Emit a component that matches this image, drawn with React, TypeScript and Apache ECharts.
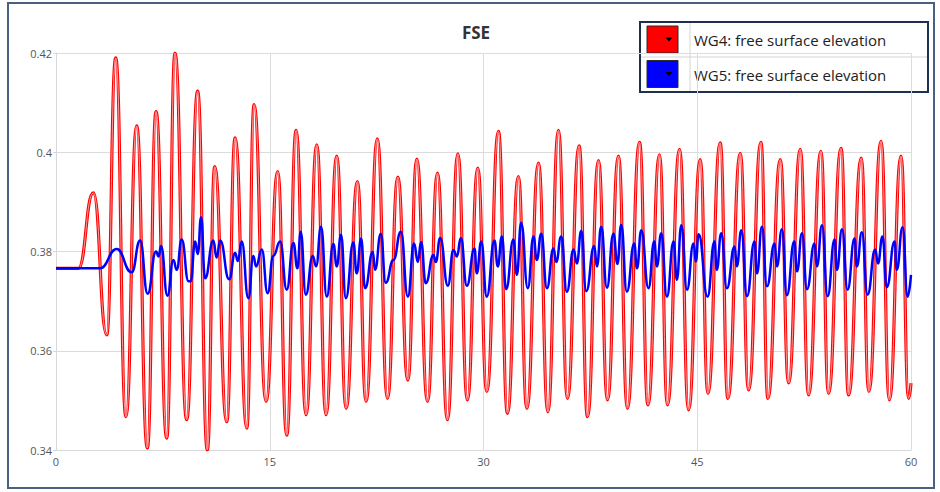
import React, { useEffect, useRef } from "react";
import * as echarts from "echarts";

const titleText = "FSE";
const seriesNames = ["WG4: free surface elevation", "WG5: free surface elevation"];
const seriesColors = ["#ff0000", "#0000ff"];
const xTicks = { min: 0, max: 60, interval: 15 };
const yTicks = { min: 0.34, max: 0.42, interval: 0.02 };

// WG4 (red): time of each crest / trough
const tWG4 = [
  0, 1.57, 2.62, 3.56, 4.19, 4.91, 5.66, 6.41, 7.02, 7.77, 8.35, 9.17, 9.94, 10.62, 11.14, 11.98,
  12.57, 13.39, 13.9, 14.74, 15.56, 16.19, 16.85, 17.55, 18.3, 18.95, 19.7, 20.36, 21.15, 21.76,
  22.55, 23.26, 23.99, 24.69, 25.32, 26.07, 26.77, 27.47, 28.2, 28.87, 29.6, 30.23, 31.05, 31.68,
  32.45, 33.04, 33.86, 34.52, 35.26, 35.89, 36.71, 37.3, 38.07, 38.7, 39.47, 40.1, 40.95, 41.54,
  42.35, 42.91, 43.76, 44.39, 45.21, 45.75, 46.61, 47.15, 48.02, 48.6, 49.47, 49.96, 50.83, 51.41,
  52.23, 52.81, 53.68, 54.21, 55.09, 55.62, 56.51, 57.04, 57.9, 58.48, 59.3, 59.83, 60,
];
const vWG4 = [
  0.3766, 0.3766, 0.3918, 0.3632, 0.419, 0.3467, 0.4053, 0.3404, 0.4082, 0.3424, 0.42, 0.3461,
  0.4123, 0.34, 0.3971, 0.3457, 0.4029, 0.3444, 0.4096, 0.3498, 0.3961, 0.343, 0.4044, 0.3471,
  0.4015, 0.3471, 0.3992, 0.3484, 0.3941, 0.3498, 0.4027, 0.3504, 0.395, 0.3541, 0.3986, 0.3498,
  0.3958, 0.3461, 0.3997, 0.3501, 0.3968, 0.3518, 0.4042, 0.3474, 0.3951, 0.3484, 0.3978, 0.3477,
  0.4044, 0.3504, 0.4013, 0.3467, 0.3983, 0.3501, 0.3992, 0.3484, 0.402, 0.3491, 0.3995, 0.3491,
  0.4006, 0.3481, 0.3985, 0.3514, 0.4019, 0.3504, 0.3998, 0.3521, 0.402, 0.3504, 0.3985, 0.3535,
  0.4006, 0.3511, 0.4002, 0.3514, 0.4008, 0.3511, 0.3988, 0.3518, 0.4022, 0.3501, 0.3992, 0.3504,
  0.3535,
];

// WG5 (blue): crests, small dips and troughs
const tWG5 = [
  0, 3.09, 4.26, 5.31, 5.9, 6.43, 7.02, 7.2, 7.37, 7.82, 8.24, 8.47, 8.82, 9.3, 9.45, 9.76, 9.95,
  10.18, 10.46, 11.04, 11.27, 11.52, 12.15, 12.57, 12.76, 13.03, 13.5, 13.85, 14.04, 14.44, 14.85,
  15.25, 15.73, 16.19, 16.66, 16.94, 17.17, 17.53, 18.02, 18.25, 18.6, 19.0, 19.47, 19.7, 20.0,
  20.34, 20.87, 21.1, 21.41, 21.69, 22.23, 22.39, 22.79, 23.14, 23.68, 24.2, 24.69, 25.13, 25.39,
  25.62, 25.95, 26.49, 26.65, 26.96, 27.5, 27.89, 28.13, 28.41, 28.83, 29.37, 29.53, 29.84, 30.23,
  30.77, 31.0, 31.29, 31.59, 32.1, 32.34, 32.64, 33.11, 33.51, 33.74, 34.05, 34.45, 34.91, 35.1,
  35.45, 35.85, 36.32, 36.55, 36.86, 37.21, 37.77, 37.96, 38.26, 38.66, 39.12, 39.4, 39.66, 40.06,
  40.58, 40.77, 41.07, 41.58, 41.98, 42.17, 42.47, 42.87, 43.34, 43.57, 43.88, 44.28, 44.74, 44.9,
  45.1, 45.72, 46.21, 46.37, 46.68, 47.08, 47.62, 47.78, 48.09, 48.49, 49.02, 49.19, 49.54, 49.89,
  50.43, 50.59, 50.94, 51.29, 51.81, 52.0, 52.35, 52.7, 53.23, 53.4, 53.75, 54.15, 54.64, 54.8,
  55.16, 55.55, 56.04, 56.2, 56.55, 56.95, 57.49, 57.68, 58.0, 58.3, 58.85, 59.0, 59.41, 59.76, 60,
];
const vWG5 = [
  0.3766, 0.3766, 0.3805, 0.3758, 0.3822, 0.3715, 0.38, 0.379, 0.3811, 0.3711, 0.3783, 0.3763,
  0.3824, 0.374, 0.374, 0.382, 0.3795, 0.3869, 0.3746, 0.3822, 0.3788, 0.3822, 0.3744, 0.3797,
  0.3781, 0.382, 0.3706, 0.3791, 0.377, 0.3804, 0.3716, 0.3791, 0.382, 0.3723, 0.3817, 0.3766,
  0.384, 0.3713, 0.3791, 0.377, 0.385, 0.3709, 0.3815, 0.377, 0.3834, 0.3706, 0.3818, 0.3756,
  0.3826, 0.3726, 0.3799, 0.3763, 0.3836, 0.3737, 0.3783, 0.384, 0.3709, 0.3816, 0.3779, 0.3819,
  0.3736, 0.3793, 0.3779, 0.3827, 0.3731, 0.3803, 0.379, 0.3827, 0.3731, 0.3806, 0.3756, 0.382,
  0.3709, 0.3822, 0.377, 0.383, 0.3724, 0.3824, 0.3753, 0.3858, 0.3726, 0.383, 0.3783, 0.3836,
  0.3726, 0.3806, 0.3779, 0.383, 0.3719, 0.3804, 0.3776, 0.3842, 0.372, 0.3811, 0.377, 0.385,
  0.3727, 0.3836, 0.3775, 0.3854, 0.3719, 0.3816, 0.3766, 0.3843, 0.3726, 0.382, 0.377, 0.3837,
  0.3709, 0.382, 0.3743, 0.3853, 0.3723, 0.3816, 0.378, 0.3835, 0.3709, 0.382, 0.3763, 0.3837,
  0.3726, 0.381, 0.377, 0.3843, 0.371, 0.382, 0.3756, 0.385, 0.373, 0.3816, 0.377, 0.3845, 0.3712,
  0.382, 0.376, 0.3837, 0.3724, 0.3816, 0.377, 0.3853, 0.371, 0.3824, 0.3763, 0.3845, 0.3723,
  0.3826, 0.377, 0.3839, 0.3713, 0.3804, 0.3776, 0.383, 0.3728, 0.382, 0.3763, 0.3849, 0.3709,
  0.3753,
];

const FONT = "'Open Sans', 'Noto Sans', sans-serif";

export default function App() {
  const ref = useRef<HTMLDivElement>(null);

  useEffect(() => {
    if (!ref.current) return;
    const chart = echarts.init(ref.current, null, { renderer: "svg" });
    const redData = tWG4.map((t, i) => [t, vWG4[i]]);
    const blueData = tWG5.map((t, i) => [t, vWG5[i]]);

    const legendX = 640;
    const legendY = 22;
    const legendW = 288;
    const rowH = 34.5;

    const legendRows: any[] = [];
    seriesNames.forEach((name, i) => {
      const y0 = legendY + i * rowH;
      legendRows.push(
        {
          type: "rect",
          shape: { x: legendX + 7, y: y0 + 4, width: 31, height: 27 },
          style: { fill: seriesColors[i], stroke: "#2a2a2a", lineWidth: 1 },
        },
        {
          type: "polygon",
          shape: {
            points: [
              [legendX + 25.5, y0 + 15.5],
              [legendX + 32.5, y0 + 15.5],
              [legendX + 29, y0 + 19.5],
            ],
          },
          style: { fill: "#000" },
        },
        {
          type: "text",
          x: legendX + 54,
          y: y0 + 18,
          style: {
            text: name,
            fill: "#222",
            font: `15px ${FONT}`,
            verticalAlign: "middle",
            align: "left",
          },
        }
      );
    });

    chart.setOption({
      animation: false,
      backgroundColor: "#ffffff",
      title: {
        text: titleText,
        left: 471,
        textAlign: "center",
        top: 19,
        textStyle: { fontFamily: FONT, fontWeight: "bold", fontSize: 17, color: "#333" },
      },
      grid: { left: 56, right: 29, top: 53, bottom: 42, containLabel: false },
      xAxis: {
        type: "value",
        min: xTicks.min,
        max: xTicks.max,
        interval: xTicks.interval,
        axisLine: { show: true, lineStyle: { color: "#d8d8d8", width: 1 } },
        axisTick: { show: false },
        splitLine: { show: true, lineStyle: { color: "#dcdcdc", width: 1 } },
        axisLabel: { color: "#555", fontFamily: FONT, fontSize: 11, margin: 6 },
      },
      yAxis: {
        type: "value",
        min: yTicks.min,
        max: yTicks.max,
        interval: yTicks.interval,
        axisLine: { show: true, lineStyle: { color: "#d8d8d8", width: 1 } },
        axisTick: { show: true, length: 3, lineStyle: { color: "#d8d8d8" } },
        splitLine: { show: true, lineStyle: { color: "#dcdcdc", width: 1 } },
        axisLabel: {
          color: "#555",
          fontFamily: FONT,
          fontSize: 11,
          margin: 4,
          formatter: (v: number) => String(Math.round(v * 100) / 100),
        },
      },
      series: [
        {
          name: seriesNames[0],
          type: "line",
          data: redData,
          showSymbol: false,
          smooth: 0.5,
          smoothMonotone: "x",
          lineStyle: { color: seriesColors[0], width: 3.2 },
          itemStyle: { color: seriesColors[0] },
          z: 2,
        },
        {
          name: seriesNames[0] + " core",
          type: "line",
          data: redData,
          showSymbol: false,
          smooth: 0.5,
          smoothMonotone: "x",
          silent: true,
          lineStyle: { color: "#ffc0c0", width: 0.8 },
          z: 3,
        },
        {
          name: seriesNames[1],
          type: "line",
          data: blueData,
          showSymbol: false,
          smooth: 0.5,
          smoothMonotone: "x",
          lineStyle: { color: seriesColors[1], width: 2.5 },
          itemStyle: { color: seriesColors[1] },
          z: 4,
        },
      ],
      graphic: [
        {
          type: "rect",
          z: 100,
          shape: { x: 8, y: 3, width: 926, height: 485 },
          style: { fill: "none", stroke: "#4a6080", lineWidth: 2 },
          silent: true,
        },
        {
          type: "group",
          z: 100,
          children: [
            {
              type: "rect",
              shape: { x: legendX, y: legendY, width: legendW, height: rowH * 2 + 1 },
              style: { fill: "#fff", stroke: "#1e2f4f", lineWidth: 2 },
            },
            {
              type: "line",
              shape: { x1: legendX + 50, y1: legendY + 1, x2: legendX + 50, y2: legendY + rowH * 2 },
              style: { stroke: "#d4d4d4", lineWidth: 1 },
            },
            {
              type: "line",
              shape: { x1: legendX + 1, y1: legendY + rowH + 0.5, x2: legendX + legendW - 1, y2: legendY + rowH + 0.5 },
              style: { stroke: "#d4d4d4", lineWidth: 1 },
            },
            ...legendRows,
          ],
        },
      ],
    });
    return () => chart.dispose();
  }, []);

  return (
    <div
      ref={ref}
      style={{ position: "absolute", left: 0, top: 0, width: 940, height: 492 }}
    />
  );
}
